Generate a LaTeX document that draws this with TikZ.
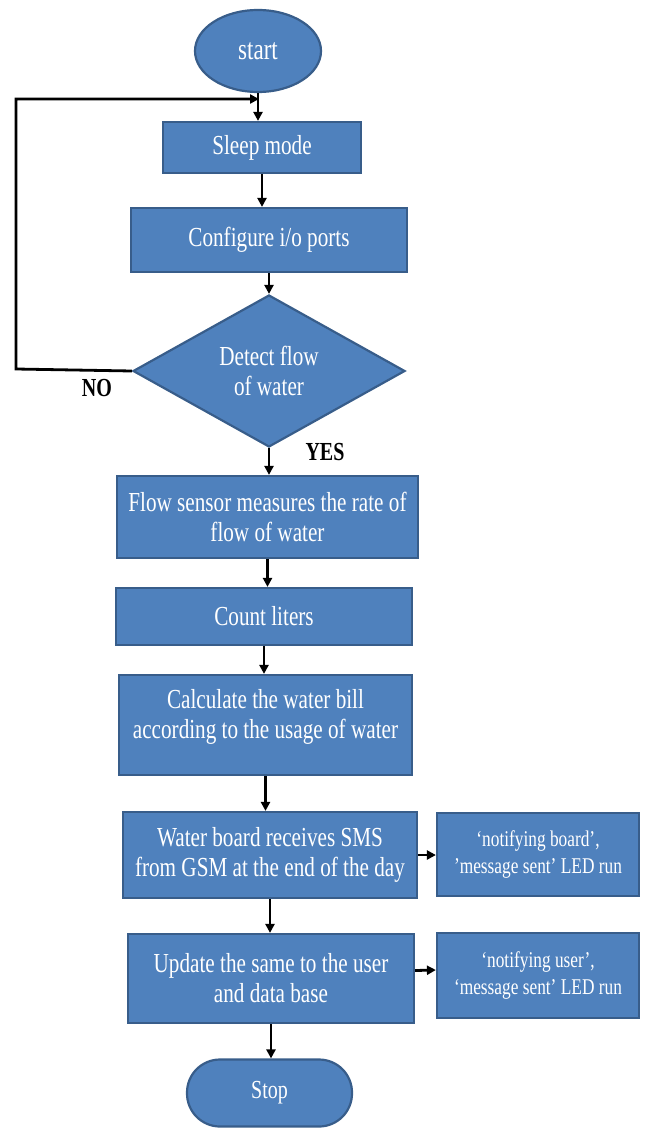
\documentclass[tikz,border=0pt]{standalone}
\usepackage{fontspec}
\setmainfont{Liberation Serif}[FakeStretch=0.77]
\usetikzlibrary{shapes.geometric,arrows.meta,calc}
\definecolor{boxfill}{HTML}{4F81BD}
\definecolor{boxline}{HTML}{385D8A}
\begin{document}
\begin{tikzpicture}[x=1pt,y=-1pt,
  every node/.style={inner sep=0pt},
  blk/.style={draw=boxline, fill=boxfill, line width=2.2pt, text=white, align=center, font=\fontsize{27.5}{30}\selectfont},
  proc/.style={blk, rectangle},
  sidebox/.style={blk, rectangle, font=\fontsize{22.5}{27}\selectfont},
  txt/.style={text=white, align=center, font=\fontsize{27.5}{30}\selectfont},
  lbl/.style={font=\fontsize{26}{28}\selectfont\bfseries, text=black},
  flowline/.style={line width=2.8pt, -{Triangle[length=9pt,width=9pt]}}]
\useasboundingbox (0,0) rectangle (645,1129);

\node[blk, ellipse, minimum width=126pt, minimum height=82pt, font=\fontsize{30}{32}\selectfont] (start) at (258,51) {start};
\node[proc, minimum width=198pt, minimum height=51pt] (sleep) at (262,147.5) {Sleep mode};
\node[proc, minimum width=276pt, minimum height=64pt] (config) at (269,240) {Configure i/o ports};
\node[blk, diamond, aspect=1.8, minimum width=272pt, minimum height=152pt] (dec) at (269,371) {Detect flow\\of water};
\node[lbl] (no) at (97,388) {NO};
\node[lbl] (yes) at (325,452) {YES};
\node[proc, minimum width=301pt, minimum height=82pt] (flow) at (267.5,517) {Flow sensor measures the rate of\\flow of water};
\node[proc, minimum width=296pt, minimum height=57pt] (count) at (264,616.5) {Count liters};
\node[proc, minimum width=293pt, minimum height=100pt] (calc) at (265.5,725) {};
\node[txt] (calct) at (265.5,717) {Calculate the water bill\\according to the usage of water};
\node[proc, minimum width=294pt, minimum height=86pt] (water) at (270,855) {Water board receives SMS\\from GSM at the end of the day};
\node[sidebox, minimum width=202pt, minimum height=83pt] (side1) at (538,854.5) {‘notifying board’,\\’message sent’ LED run};
\node[proc, minimum width=286pt, minimum height=89pt] (update) at (271,978.5) {Update the same to the user\\and data base};
\node[sidebox, minimum width=202pt, minimum height=85pt] (side2) at (538,975.5) {‘notifying user’,\\‘message sent’ LED run};
\node[proc, minimum width=165pt, minimum height=67pt, rounded corners=33pt, font=\fontsize{26}{28}\selectfont] (stop) at (269.5,1093) {Stop};

\coordinate (loopin) at (259,99);
\coordinate (loopleft) at (16,369);

\draw[flowline] (start.south) -- (start.south |- sleep.north);
\draw[flowline] (sleep.south) -- (sleep.south |- config.north);
\draw[flowline] (config.south) -- (config.south |- dec.north);
\draw[flowline] (dec.south) -- (dec.south |- flow.north);
\draw[flowline] (flow.south) -- (flow.south |- count.north);
\draw[flowline] (count.south) -- (count.south |- calc.north);
\draw[flowline] (calc.south) -- (calc.south |- water.north);
\draw[flowline] (water.south) -- (water.south |- update.north);
\draw[flowline] (update.south) -- (update.south |- stop.north);
\draw[flowline] (water.east) -- (water.east -| side1.west);
\draw[flowline] ($(update.east)+(0,-8)$) -- ($(side2.west)+(0,-5.5)$);
\draw[flowline] (dec.west) -- (loopleft) |- (loopin);
\end{tikzpicture}
\end{document}
